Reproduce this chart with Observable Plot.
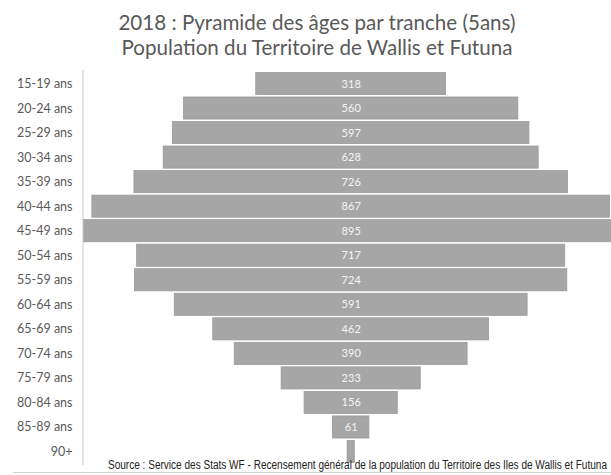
<!DOCTYPE html>
<html>
<head>
<meta charset="utf-8">
<script src="https://cdn.jsdelivr.net/npm/d3@7"></script>
<script src="https://cdn.jsdelivr.net/npm/@observablehq/plot@0.6"></script>
<style>
  body { margin: 0; background: #fff; width: 611px; height: 475px; overflow: hidden; position: relative; }
  #title { position: absolute; top: 0; left: 0; width: 611px; font-family: Lato, "Open Sans", sans-serif; color: #595959; font-size: 20.6px; text-align: center; line-height: 24.5px; padding-top: 10px; box-sizing: border-box; padding-left: 23px; }
  #chart { position: absolute; top: 69.5px; left: 0; }
  #caption { font-family: "Liberation Sans", Arial, sans-serif; font-size: 12.5px; color: #222; position: absolute; top: 458px; left: 108px; white-space: nowrap; transform-origin: 0 0; line-height: 14px; background: transparent; }
  #rule { position: absolute; left: 13px; top: 472px; width: 598px; height: 1px; background: #cfcfcf; }
</style>
</head>
<body>
<div id="title">2018 : Pyramide des âges par tranche (5ans)<br>Population du Territoire de Wallis et Futuna</div>
<div id="chart"></div>
<div id="caption">Source : Service des Stats WF - Recensement général de la population du Territoire des Iles de Wallis et Futuna</div>
<div id="rule"></div>
<script>
const ageGroups = ["15-19 ans","20-24 ans","25-29 ans","30-34 ans","35-39 ans","40-44 ans","45-49 ans","50-54 ans","55-59 ans","60-64 ans","65-69 ans","70-74 ans","75-79 ans","80-84 ans","85-89 ans","90+"];
const population = [318, 560, 597, 628, 726, 867, 895, 717, 724, 591, 462, 390, 233, 156, 61, 12];
const shownLabels = [true,true,true,true,true,true,true,true,true,true,true,true,true,true,true,false];

const data = ageGroups.map((a, i) => ({age: a, value: population[i], show: shownLabels[i]}));

const chart = Plot.plot({
  width: 611,
  height: 395,
  marginLeft: 82,
  marginRight: 0,
  marginTop: 0,
  marginBottom: 0,
  style: {fontFamily: "Lato, 'Open Sans', sans-serif", overflow: "visible", background: "transparent"},
  x: {domain: [-450, 436], axis: null},
  y: {domain: ageGroups, padding: 0.1, round: false, label: null},
  marks: [
    Plot.barX(data, {y: "age", x1: d => -d.value / 2, x2: d => d.value / 2, fill: "#a6a6a6", stroke: "#9a9a9a", strokeWidth: 0.8, clip: true}),
    Plot.text(data.filter(d => d.show), {y: "age", x: 0, text: d => String(d.value), fill: "#f4f4f4", fontSize: 11}),
    Plot.axisY({tickSize: 0, tickPadding: 10, fontSize: 12.5, color: "#595959", label: null}),
    Plot.ruleX([-450], {dx: 0.5, stroke: "#c8c8c8", strokeWidth: 1})
  ]
});
document.getElementById("chart").appendChild(chart);
const cap = document.getElementById("caption");
const w = cap.getBoundingClientRect().width;
cap.style.transform = `scaleX(${499 / w})`;
</script>
</body>
</html>
